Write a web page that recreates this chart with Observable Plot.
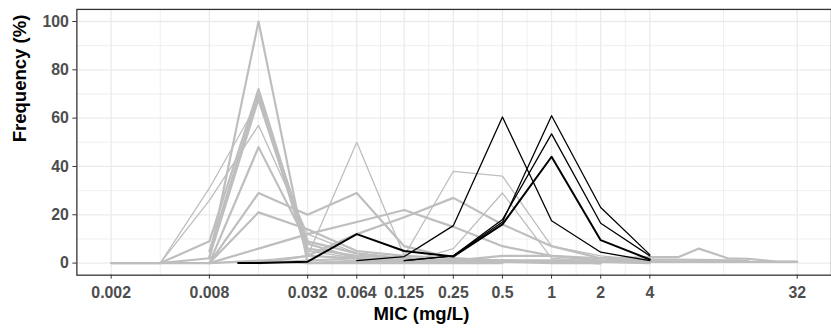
<!DOCTYPE html>
<html><head><meta charset="utf-8">
<script src="https://cdn.jsdelivr.net/npm/d3@7"></script>
<script src="https://cdn.jsdelivr.net/npm/@observablehq/plot@0.6"></script>
<style>
html,body{margin:0;padding:0;background:#fff;overflow:hidden;}
#chart{width:831px;height:333px;overflow:hidden;}
</style></head><body><div id="chart"></div>
<script>
// MIC dilution grid (mg/L)
const mic = [0.002, 0.004, 0.008, 0.016, 0.032, 0.064, 0.125, 0.25, 0.5, 1, 2, 4, 8, 16, 32];
// tick labels
const xTicks = [0.002, 0.008, 0.032, 0.064, 0.125, 0.25, 0.5, 1, 2, 4, 32];
const yTicks = [0, 20, 40, 60, 80, 100];
const yMinor = [10, 30, 50, 70, 90];

// grey series (frequency %, on mic grid; null = not tested)
const g01 = [0, 0, 2, 100, 0, 0, 0, 0, 0, null, null, null, null, null, null];
const g02 = [null, 0, 9, 72, 6, 3, 2, 1, 1, 0.5, 0, null, null, null, null];
const g03 = [null, null, 5, 70, 3, 2, 1, 0.5, 0.5, 0, 0, null, null, null, null];
const g04 = [null, null, 2.5, 68, 9, 4, 2, 1, 0.5, 0.5, 0.5, 0, null, null, null];
const g05 = [0, 0, 31, 67, 5, 2, 1, 0.5, 0, null, null, null, null, null, null];
const g06 = [null, 0, 26, 57, 12, 4, 2, 1, 1, 0.5, 0, null, null, null, null];
const g07 = [null, null, 0, 48, 8, 2, 1, 1, 0.5, 0.5, 0, null, null, null, null];
const g08 = [null, null, 0, 29, 20, 29, 7, 2, 1, 0.5, 0, null, null, null, null];
const g09 = [null, null, 0, 21, 14, 5, 3, 2, 1, 1, 1, 1.5, 1.3, 1, null];
const g10 = [null, null, 0, 1, 3, 50, 3, 38, 36, 7, 3, 1, 0.5, null, null];
const g11 = [null, null, 0, 6, 12, 17, 22, 15, 7, 3, 1, 0.5, null, null, null];
const g12 = [null, null, null, 0, 3, 12, 19, 27, 16, 7, 2, 0.5, null, null, null];
const g13 = [null, null, null, null, null, 0, 0, 6, 29, 2, 0.5, 0, null, null, null];
const g14 = [null, null, null, 0, 1, 2, 1, 1, 3, 3, 2, null, null, null, null];
const g15 = [0, 0, 0, 1, 0, 1, 0.5, 0.5, 1, 1, 0.5, 0.5, 0.5, 0.5, 0.5];
// grey tail with intermediate (gradient strip) readings
const tailMic = [2, 4, 6, 8, 12, 16, 24, 32];
const tailFreq = [2, 2.5, 2.5, 6, 2, 1.8, 0.6, 0.6];
const greyWidths = [2.2, 2.2, 2.2, 2.2, 1.3, 1.3, 2.2, 2.2, 2.2, 1.3, 2.2, 2.2, 1.3, 2.2, 2.2];

// black series
const b1 = [null, null, null, null, null, 1, 2.7, 15.5, 60.5, 17.5, 4.5, 1, null, null, null];
const b2 = [null, null, null, null, null, null, 1, 3, 17, 61, 23, 3.5, null, null, null];
const b3 = [null, null, null, null, null, null, 1, 3, 18, 53.5, 16.5, 3, null, null, null];
const b4Mic = [0.012, 0.016, 0.032, 0.064, 0.125, 0.25, 0.5, 1, 2, 4];
const b4 = [0, 0, 0.6, 12, 5, 2.7, 16, 44, 9.5, 1.5];
const blackWidths = [1.3, 1.3, 1.3, 2];

function rows(xs, vs, id) {
  const out = [];
  vs.forEach((v, i) => { if (v !== null && v !== undefined) out.push({mic: xs[i], freq: v, id}); });
  return out;
}
const greySets = [g01,g02,g03,g04,g05,g06,g07,g08,g09,g10,g11,g12,g13,g14,g15].map((v, i) => rows(mic, v, "g" + i));
const tailSet = rows(tailMic, tailFreq, "tail");
const blackSets = [rows(mic, b1, "b1"), rows(mic, b2, "b2"), rows(mic, b3, "b3"), rows(b4Mic, b4, "b4")];

// minor x gridlines at geometric midpoints between labelled ticks
const xMinor = xTicks.slice(1).map((t, i) => Math.sqrt(t * xTicks[i]));

const ext = Math.pow(2, 0.698);
const grid = "#ebebeb";
const fontFam = "'Liberation Sans', Arial, sans-serif";

const chart = Plot.plot({
  width: 838, height: 333,
  marginLeft: 77, marginRight: 0, marginTop: 9, marginBottom: 56,
  style: {fontFamily: fontFam, fontSize: "16px", fontWeight: "bold", background: "#fff", overflow: "visible"},
  x: {type: "log", base: 2, domain: [0.002 / ext, 32 * ext]},
  y: {domain: [-5, 105]},
  marks: [
    Plot.gridX(xMinor, {stroke: grid, strokeOpacity: 1, strokeWidth: 0.8}),
    Plot.gridY(yMinor, {stroke: grid, strokeOpacity: 1, strokeWidth: 0.8}),
    Plot.gridX(xTicks, {stroke: grid, strokeOpacity: 1, strokeWidth: 1.3}),
    Plot.gridY(yTicks, {stroke: grid, strokeOpacity: 1, strokeWidth: 1.3}),
    ...greySets.map((d, i) => Plot.line(d, {x: "mic", y: "freq", stroke: "#bebebe", strokeWidth: greyWidths[i]})),
    Plot.line(tailSet, {x: "mic", y: "freq", stroke: "#bebebe", strokeWidth: 2.2}),
    ...blackSets.map((d, i) => Plot.line(d, {x: "mic", y: "freq", stroke: "#000", strokeWidth: blackWidths[i]})),
    Plot.frame({stroke: "#333", strokeWidth: 1.3}),
    Plot.axisX(xTicks, {tickSize: 4, tickPadding: 8, tickFormat: d => String(d), label: null, stroke: "#333", fill: "#4d4d4d", fontWeight: "bold"}),
    Plot.axisY(yTicks, {tickSize: 4, tickPadding: 4, label: null, stroke: "#333", fill: "#4d4d4d", fontWeight: "bold"}),
    Plot.text(["MIC (mg/L)"], {text: d => d, frameAnchor: "bottom", dx: -33, dy: 45, fontSize: 18.7, fontWeight: "bold", fill: "#000"}),
    Plot.text(["Frequency (%)"], {text: d => d, frameAnchor: "left", dx: -57, rotate: -90, fontSize: 18.7, fontWeight: "bold", fill: "#000"})
  ]
});
document.getElementById("chart").appendChild(chart);
</script>
</body></html>
